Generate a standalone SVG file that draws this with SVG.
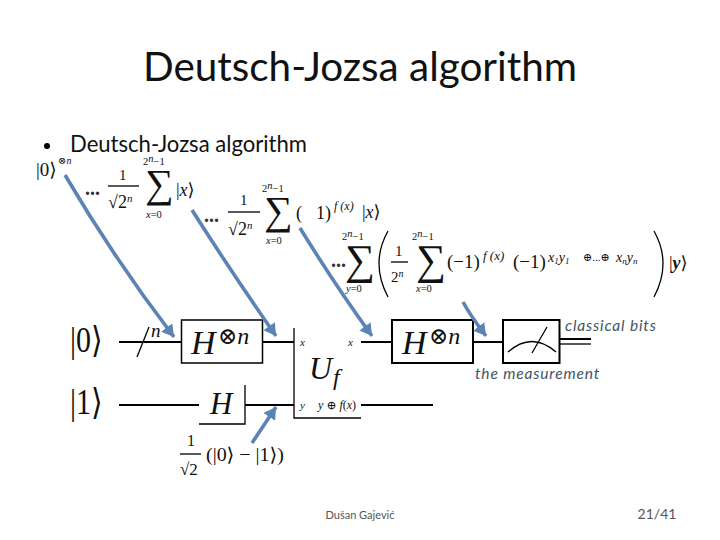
<svg xmlns="http://www.w3.org/2000/svg" width="720" height="540" viewBox="0 0 720 540">
<style>
.s{font-family:"Lato","Open Sans",sans-serif;fill:#111}
.m{font-family:"Liberation Serif","DejaVu Serif",serif;fill:#111}
.i{font-style:italic}
.w{stroke:#000;stroke-width:2;fill:none}
.t{stroke:#000;stroke-width:1.3;fill:none}
.a{stroke:#5b83b4;stroke-width:3.6;fill:none}
.c{font-family:"Lato","Open Sans",sans-serif;font-style:italic;fill:#3f5468;font-size:15.5px;letter-spacing:.85px}
</style>
<defs><marker id="ah" markerUnits="userSpaceOnUse" markerWidth="16" markerHeight="16" refX="12" refY="7" orient="auto"><path d="M0 0L12 7L0 14Z" fill="#5b83b4"/></marker></defs>
<rect width="720" height="540" fill="#fff"/>
<text class="s" x="360" y="81" font-size="40" text-anchor="middle" textLength="434" lengthAdjust="spacingAndGlyphs">Deutsch-Jozsa algorithm</text>
<circle cx="47" cy="146" r="3" fill="#000"/>
<text class="s" x="70" y="152" font-size="23" textLength="237" lengthAdjust="spacingAndGlyphs">Deutsch-Jozsa algorithm</text>

<g id="eq1" class="m">
<text x="36" y="176" font-size="19">|0⟩</text><text x="58" y="164" font-size="10">⊗<tspan class="i">n</tspan></text>
<text x="85" y="195" font-size="20" font-weight="bold" fill="#333">...</text>
<text x="119" y="180" font-size="15">1</text><path class="t" d="M108 186H139" stroke-width="1"/>
<text x="108" y="208" font-size="18">√2<tspan class="i" font-size="11" dy="-6">n</tspan></text>
<text x="145" y="197" font-size="40">∑</text>
<text x="143" y="165" font-size="10.500">2<tspan class="i" dy="-3">n</tspan><tspan dy="3">−1</tspan></text>
<text x="146" y="218" font-size="10.500"><tspan class="i">x</tspan>=0</text>
<text x="176" y="196" font-size="18">|<tspan class="i">x</tspan>⟩</text>
</g>
<g id="eq2" class="m">
<text x="204" y="222" font-size="20" font-weight="bold" fill="#333">...</text>
<text x="240" y="205" font-size="15">1</text><path class="t" d="M228 212H260" stroke-width="1"/>
<text x="228" y="235" font-size="18">√2<tspan class="i" font-size="11" dy="-6">n</tspan></text>
<text x="264" y="224" font-size="40">∑</text>
<text x="262" y="192" font-size="10.500">2<tspan class="i" dy="-3">n</tspan><tspan dy="3">−1</tspan></text>
<text x="266" y="244" font-size="10.500"><tspan class="i">x</tspan>=0</text>
<text x="296" y="219" font-size="18">(</text><text x="316" y="219" font-size="18">1)</text>
<text x="334" y="210" font-size="12" class="i">f (x)</text>
<text x="362" y="218" font-size="18">|<tspan class="i">x</tspan>⟩</text>
</g>
<g id="eq3" class="m">
<text x="331" y="267" font-size="20" font-weight="bold" fill="#333">...</text>
<text x="345" y="274" font-size="42">∑</text>
<text x="342" y="240" font-size="10.500">2<tspan class="i" dy="-3">n</tspan><tspan dy="3">−1</tspan></text>
<text x="346" y="292" font-size="10.500"><tspan class="i">y</tspan>=0</text>
<path class="t" d="M388 231Q370 263 388 297"/>
<text x="395" y="256" font-size="15">1</text><path class="t" d="M391 262H408" stroke-width="1"/>
<text x="391" y="282" font-size="15">2<tspan class="i" font-size="10" dy="-5">n</tspan></text>
<text x="416" y="274" font-size="42">∑</text>
<text x="412" y="240" font-size="10.500">2<tspan class="i" dy="-3">n</tspan><tspan dy="3">−1</tspan></text>
<text x="416" y="292" font-size="10.500"><tspan class="i">x</tspan>=0</text>
<text x="447" y="268" font-size="19">(−1)</text>
<text x="483" y="260" font-size="13" class="i">f (x)</text>
<text x="513" y="268" font-size="19">(−1)</text>
<text x="548" y="262" font-size="14" class="i">x<tspan font-size="9" dy="2">1</tspan><tspan dy="-2">y</tspan><tspan font-size="9" dy="2">1</tspan></text>
<text x="583" y="261" font-size="11">⊕...⊕</text>
<text x="616" y="262" font-size="14" class="i">x<tspan font-size="9" dy="2">n</tspan><tspan dy="-2">y</tspan><tspan font-size="9" dy="2">n</tspan></text>
<path class="t" d="M654 231Q672 263 654 297"/>
<text x="669" y="269" font-size="18">|<tspan class="i" font-weight="bold">y</tspan>⟩</text>
</g>

<g id="wires">
<path class="w" d="M119 342H181M262 342H294M361 342H392M473 342H503M119 405H199M245 405H294M361 405H433"/>
<path class="t" d="M137 357L149 327"/>
<path d="M560 339H591" class="w"/><path d="M560 344H591" class="t"/>
</g>
<g id="in0" class="m"><text transform="translate(70 352) scale(1 1.2)" font-size="30">|0⟩</text></g>
<g id="in1" class="m"><text transform="translate(70 414) scale(1 1.2)" font-size="30">|1⟩</text></g>
<g id="slash" class="m"><text x="151" y="337" font-size="19" class="i">n</text></g>
<g id="hn1"><rect x="181.500" y="320" width="81" height="43" fill="#fff" stroke="#000" stroke-width="1.500"/>
<text class="m i" x="191" y="354" font-size="34">H</text><text class="m" x="218" y="344" font-size="23">⊗<tspan class="i" font-size="24">n</tspan></text></g>
<g id="h"><path class="t" d="M245 385V424H199" stroke-width="1.500"/><text class="m i" x="210" y="414" font-size="31">H</text></g>
<g id="uf"><path class="t" stroke-width="1.500" d="M294 328V418H361"/>
<text class="m i" x="300" y="346" font-size="11">x</text>
<text class="m i" x="348" y="346" font-size="11">x</text>
<text class="m i" x="309" y="379" font-size="32">U</text><text class="m i" x="333" y="385" font-size="24">f</text>
<text class="m i" x="300" y="409" font-size="11">y</text>
<text class="m" x="318" y="409" font-size="12"><tspan class="i">y</tspan> ⊕ <tspan class="i">f</tspan>(<tspan class="i">x</tspan>)</text></g>
<g id="hn2"><rect x="392" y="320" width="81" height="43" fill="#fff" stroke="#000" stroke-width="2"/>
<text class="m i" x="402" y="354" font-size="34">H</text><text class="m" x="429" y="344" font-size="23">⊗<tspan class="i" font-size="24">n</tspan></text></g>
<g id="meter"><rect x="503" y="320" width="56.500" height="43" fill="#fff" stroke="#000" stroke-width="2"/>
<path class="t" d="M508 352Q532 331 556 352M532 353L547 327"/></g>
<g id="eq4" class="m"><text x="187" y="446" font-size="16">1</text><path class="t" d="M180 454H201" stroke-width="1"/>
<text x="180" y="475" font-size="17">√2</text><text x="206" y="461" font-size="19" textLength="78" lengthAdjust="spacingAndGlyphs">(|0⟩ − |1⟩)</text></g>

<text class="c" x="565" y="331">classical bits</text>
<text class="c" x="475" y="379">the measurement</text>
<text class="s" x="360" y="519" font-size="11" text-anchor="middle" style="fill:#555">Dušan Gajević</text>
<text class="s" x="657" y="519" font-size="14" text-anchor="middle" style="fill:#555">21/41</text>

<g id="connectors">
<path class="a" marker-end="url(#ah)" d="M65 175Q115 260 174 337"/>
<path class="a" marker-end="url(#ah)" d="M192 210Q230 270 276 336"/>
<path class="a" marker-end="url(#ah)" d="M300 228Q335 285 372 336"/>
<path class="a" marker-end="url(#ah)" d="M463 302Q470 315 486 336"/>
<path class="a" marker-end="url(#ah)" d="M252 443L276 407"/>
</g>
</svg>
